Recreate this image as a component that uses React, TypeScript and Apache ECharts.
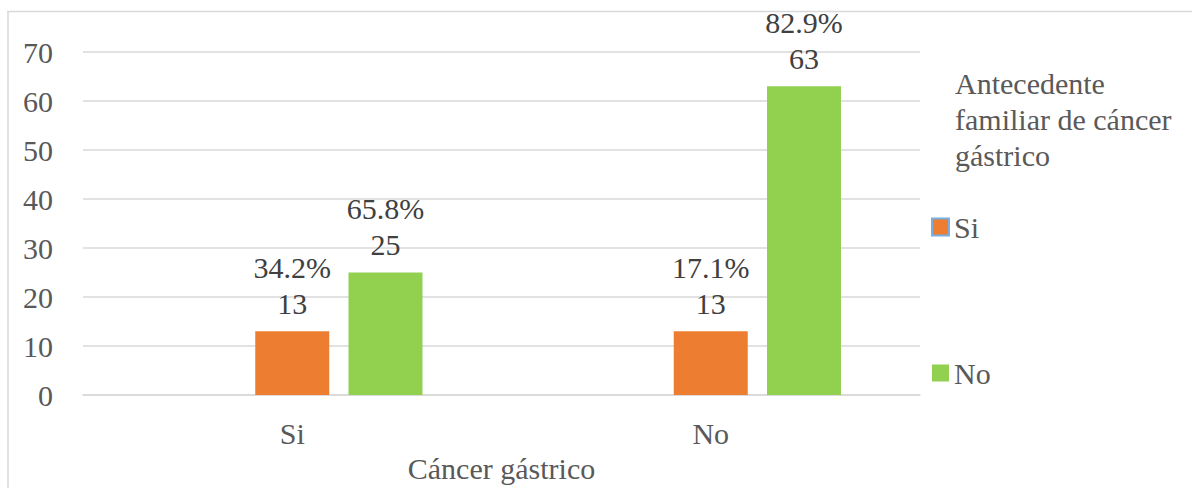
import React, { useEffect, useRef } from "react";
import * as echarts from "echarts";

const categories = ["Si", "No"];
const siValues = [13, 13];
const noValues = [25, 63];
const siPct = ["34.2%", "17.1%"];
const noPct = ["65.8%", "82.9%"];
const legendTitle = "Antecedente\nfamiliar de cáncer\ngástrico";
const xName = "Cáncer gástrico";

const FONT = "'Liberation Serif', 'Times New Roman', serif";

export default function App() {
  const ref = useRef<HTMLDivElement>(null);
  useEffect(() => {
    if (!ref.current) return;
    const chart = echarts.init(ref.current, undefined, { renderer: "svg" });
    const labelStyle = (pcts: string[]) => ({
      show: true,
      position: "top",
      distance: 10,
      fontFamily: FONT,
      fontSize: 30,
      lineHeight: 36,
      color: "#404040",
      formatter: (p: any) => `${pcts[p.dataIndex]}\n${p.value}`,
    });
    const axisText = { fontFamily: FONT, fontSize: 30, color: "#595959" };
    chart.setOption({
      animation: false,
      backgroundColor: "#ffffff",
      textStyle: { fontFamily: FONT, fontSize: 30 },
      grid: { left: 83, right: 272, top: 52, bottom: 88, containLabel: false },
      legend: {
        orient: "vertical",
        left: 931,
        top: 209,
        itemWidth: 17,
        itemHeight: 17,
        itemGap: 110,
        padding: 0,
        icon: "rect",
        textStyle: { ...axisText, lineHeight: 36 },
        data: [
          { name: "Si", itemStyle: { borderColor: "#7aaee0", borderWidth: 2 } },
          { name: "No" },
        ],
      },
      graphic: [
        {
          type: "line",
          shape: { x1: 7, y1: 11.5, x2: 1192, y2: 11.5 },
          style: { stroke: "#d9d9d9", lineWidth: 1.5 },
        },
        {
          type: "line",
          shape: { x1: 8, y1: 11, x2: 8, y2: 488 },
          style: { stroke: "#d9d9d9", lineWidth: 1.5 },
        },
        {
          type: "text",
          x: 955,
          y: 65,
          style: {
            text: legendTitle,
            fontFamily: FONT,
            fontSize: 30,
            lineHeight: 36,
            fill: "#595959",
            verticalAlign: "top",
          },
        },
      ],
      xAxis: {
        type: "category",
        data: categories,
        name: xName,
        nameLocation: "middle",
        nameGap: 58,
        nameTextStyle: { ...axisText, verticalAlign: "top" },
        axisTick: { show: false },
        axisLine: { lineStyle: { color: "#d9d9d9", width: 1.5 } },
        axisLabel: { ...axisText, margin: 23 },
      },
      yAxis: {
        type: "value",
        min: 0,
        max: 70,
        interval: 10,
        axisLine: { show: false },
        axisTick: { show: false },
        splitLine: { lineStyle: { color: "#d9d9d9", width: 1.5 } },
        axisLabel: { ...axisText, margin: 30 },
      },
      series: [
        {
          name: "Antecedente familiar de cáncer gástrico",
          type: "bar",
          barWidth: 74,
          barGap: "26%",
          data: [null, null],
        },
        {
          name: "Si",
          type: "bar",
          barWidth: 74,
          barGap: "26%",
          itemStyle: { color: "#ED7D31" },
          label: labelStyle(siPct),
          data: siValues,
        },
        {
          name: "No",
          type: "bar",
          barWidth: 74,
          barGap: "26%",
          itemStyle: { color: "#92D050" },
          label: labelStyle(noPct),
          data: noValues,
        },
      ],
    });
    return () => chart.dispose();
  }, []);
  return (
    <div
      ref={ref}
      style={{ position: "fixed", left: 0, top: 0, width: 1192, height: 488, background: "#fff" }}
    />
  );
}
